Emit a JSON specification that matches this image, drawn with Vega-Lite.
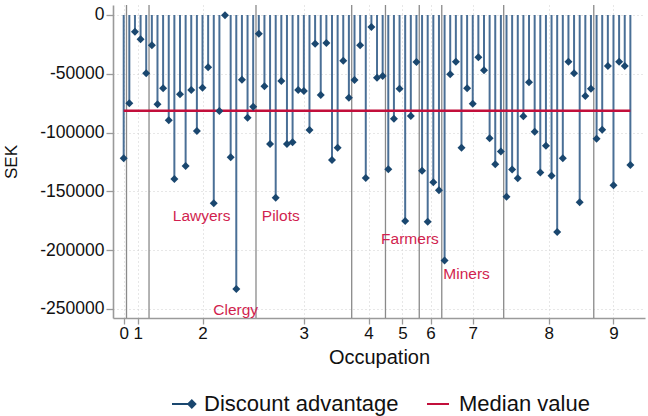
{
  "$schema": "https://vega.github.io/schema/vega-lite/v6.json",
  "width": 532,
  "height": 313,
  "autosize": {"type": "none"},
  "padding": {"left": 113, "top": 5, "right": 3, "bottom": 98},
  "background": "white",
  "config": {
    "font": "Liberation Sans",
    "view": {"stroke": null},
    "axis": {
      "domainColor": "#9a9a9a", "domainWidth": 1.6,
      "tickColor": "#9a9a9a", "tickWidth": 1.3,
      "gridColor": "#cfcfcf", "gridDash": [1, 3], "gridWidth": 1,
      "labelFont": "Liberation Sans", "titleFont": "Liberation Sans",
      "labelColor": "#111", "titleColor": "#111", "titleFontWeight": "normal"
    }
  },
  "datasets": {
    "pts": [
      {"i":1,"value":-121900,"group":0},{"i":2,"value":-75100,"group":1},{"i":3,"value":-14200,"group":1},{"i":4,"value":-20700,"group":1},{"i":5,"value":-49600,"group":1},
      {"i":6,"value":-25800,"group":2},{"i":7,"value":-75900,"group":2},{"i":8,"value":-62300,"group":2},{"i":9,"value":-89500,"group":2},{"i":10,"value":-139500,"group":2},
      {"i":11,"value":-67400,"group":2},{"i":12,"value":-128400,"group":2},{"i":13,"value":-63800,"group":2},{"i":14,"value":-98600,"group":2},{"i":15,"value":-61800,"group":2},
      {"i":16,"value":-44500,"group":2},{"i":17,"value":-160100,"group":2},{"i":18,"value":-81600,"group":2},{"i":19,"value":-300,"group":2},{"i":20,"value":-121000,"group":2},
      {"i":21,"value":-233000,"group":2},{"i":22,"value":-55000,"group":2},{"i":23,"value":-87300,"group":2},{"i":24,"value":-78000,"group":2},
      {"i":25,"value":-15900,"group":3},{"i":26,"value":-60600,"group":3},{"i":27,"value":-109700,"group":3},{"i":28,"value":-155400,"group":3},{"i":29,"value":-56100,"group":3},
      {"i":30,"value":-109700,"group":3},{"i":31,"value":-108200,"group":3},{"i":32,"value":-63800,"group":3},{"i":33,"value":-64600,"group":3},{"i":34,"value":-97800,"group":3},
      {"i":35,"value":-24400,"group":3},{"i":36,"value":-68000,"group":3},{"i":37,"value":-23800,"group":3},{"i":38,"value":-123300,"group":3},{"i":39,"value":-112800,"group":3},
      {"i":40,"value":-38900,"group":3},{"i":41,"value":-70300,"group":3},
      {"i":42,"value":-55300,"group":4},{"i":43,"value":-25800,"group":4},{"i":44,"value":-138600,"group":4},{"i":45,"value":-10200,"group":4},{"i":46,"value":-53300,"group":4},{"i":47,"value":-51900,"group":4},
      {"i":48,"value":-131200,"group":5},{"i":49,"value":-88200,"group":5},{"i":50,"value":-62700,"group":5},{"i":51,"value":-175200,"group":5},{"i":52,"value":-85900,"group":5},{"i":53,"value":-40000,"group":5},
      {"i":54,"value":-132400,"group":6},{"i":55,"value":-175800,"group":6},{"i":56,"value":-142300,"group":6},{"i":57,"value":-149100,"group":6},
      {"i":58,"value":-208900,"group":7},{"i":59,"value":-50400,"group":7},{"i":60,"value":-39700,"group":7},{"i":61,"value":-112800,"group":7},{"i":62,"value":-62300,"group":7},
      {"i":63,"value":-75400,"group":7},{"i":64,"value":-36000,"group":7},{"i":65,"value":-47000,"group":7},{"i":66,"value":-104800,"group":7},{"i":67,"value":-127000,"group":7},{"i":68,"value":-116200,"group":7},
      {"i":69,"value":-154500,"group":8},{"i":70,"value":-131500,"group":8},{"i":71,"value":-138900,"group":8},{"i":72,"value":-86100,"group":8},{"i":73,"value":-57200,"group":8},
      {"i":74,"value":-99200,"group":8},{"i":75,"value":-133900,"group":8},{"i":76,"value":-111100,"group":8},{"i":77,"value":-136700,"group":8},{"i":78,"value":-184500,"group":8},
      {"i":79,"value":-121900,"group":8},{"i":80,"value":-39700,"group":8},{"i":81,"value":-49600,"group":8},{"i":82,"value":-159300,"group":8},{"i":83,"value":-68900,"group":8},{"i":84,"value":-62700,"group":8},
      {"i":85,"value":-105200,"group":9},{"i":86,"value":-97500,"group":9},{"i":87,"value":-43400,"group":9},{"i":88,"value":-144800,"group":9},{"i":89,"value":-39700,"group":9},{"i":90,"value":-43400,"group":9},{"i":91,"value":-127600,"group":9}
    ],
    "bounds": [{"b":1.5},{"b":5.5},{"b":24.5},{"b":41.5},{"b":47.5},{"b":53.5},{"b":57.5},{"b":68.5},{"b":84.5}],
    "median": [{"i":1,"m":-81500,"series":"Median value"},{"i":91,"m":-81500,"series":"Median value"}],
    "labels": [
      {"i":14.85,"v":-170700,"name":"Lawyers"},
      {"i":28.9,"v":-171300,"name":"Pilots"},
      {"i":20.9,"v":-250800,"name":"Clergy"},
      {"i":51.85,"v":-190500,"name":"Farmers"},
      {"i":61.9,"v":-220200,"name":"Miners"}
    ]
  },
  "layer": [
    {
      "data": {"name": "bounds"},
      "mark": {"type": "rule", "color": "#8a8a8a", "strokeWidth": 1.3},
      "encoding": {
        "x": {"field": "b", "type": "quantitative",
          "scale": {"domain": [-0.9, 93.6], "nice": false, "zero": false},
          "axis": {
            "values": [1, 3.5, 15, 33, 44.5, 50.5, 55.5, 63, 76.5, 88],
            "labelExpr": "'' + indexof([1, 3.5, 15, 33, 44.5, 50.5, 55.5, 63, 76.5, 88], datum.value)",
            "title": "Occupation", "titleFontSize": 20, "titlePadding": 6,
            "labelFontSize": 17, "labelPadding": 1, "tickSize": 6,
            "grid": true
          }
        }
      }
    },
    {
      "data": {"name": "pts"},
      "mark": {"type": "rule", "color": "#4a6f96", "strokeWidth": 2},
      "encoding": {
        "x": {"field": "i", "type": "quantitative"},
        "y": {"field": "value", "type": "quantitative",
          "scale": {"domain": [-257700, 8500], "nice": false, "zero": false},
          "axis": {
            "values": [0, -50000, -100000, -150000, -200000, -250000],
            "labelExpr": "'' + datum.value",
            "title": "SEK", "titleFontSize": 17, "titlePadding": 19,
            "labelFontSize": 17.5, "labelPadding": 2, "tickSize": 7,
            "grid": true
          }
        },
        "y2": {"datum": 0}
      }
    },
    {
      "data": {"name": "median"},
      "mark": {"type": "line", "strokeWidth": 2.5},
      "encoding": {
        "x": {"field": "i", "type": "quantitative"},
        "y": {"field": "m", "type": "quantitative"},
        "color": {"field": "series", "type": "nominal",
          "scale": {"domain": ["Discount advantage", "Median value"], "range": ["#1a476f", "#c20f3b"]},
          "legend": {
            "title": null, "orient": "none", "legendX": 58, "legendY": 387,
            "direction": "horizontal", "columns": 2, "columnPadding": 24,
            "labelFontSize": 22, "labelOffset": 9, "labelColor": "#111", "labelLimit": 0,
            "symbolSize": 484, "symbolStrokeWidth": 2,
            "encode": {
              "symbols": {
                "update": {
                  "shape": {"signal": "datum.value === 'Median value' ? 'stroke' : 'M-1,0L0.8,0M0.8,-0.32L1.12,0L0.8,0.32L0.48,0Z'"},
                  "fill": {"signal": "datum.value === 'Median value' ? 'transparent' : '#1a476f'"},
                  "stroke": {"signal": "datum.value === 'Median value' ? '#c20f3b' : '#1a476f'"},
                  "strokeWidth": {"value": 2}
                }
              }
            }
          }
        }
      }
    },
    {
      "data": {"name": "pts"},
      "mark": {"type": "point", "shape": "diamond", "filled": true, "size": 64, "color": "#1a476f", "opacity": 1},
      "encoding": {
        "x": {"field": "i", "type": "quantitative"},
        "y": {"field": "value", "type": "quantitative"}
      }
    },
    {
      "data": {"name": "labels"},
      "mark": {"type": "text", "fontSize": 15.5, "color": "#d11f4f", "align": "center", "baseline": "middle"},
      "encoding": {
        "x": {"field": "i", "type": "quantitative"},
        "y": {"field": "v", "type": "quantitative"},
        "text": {"field": "name"}
      }
    }
  ]
}
